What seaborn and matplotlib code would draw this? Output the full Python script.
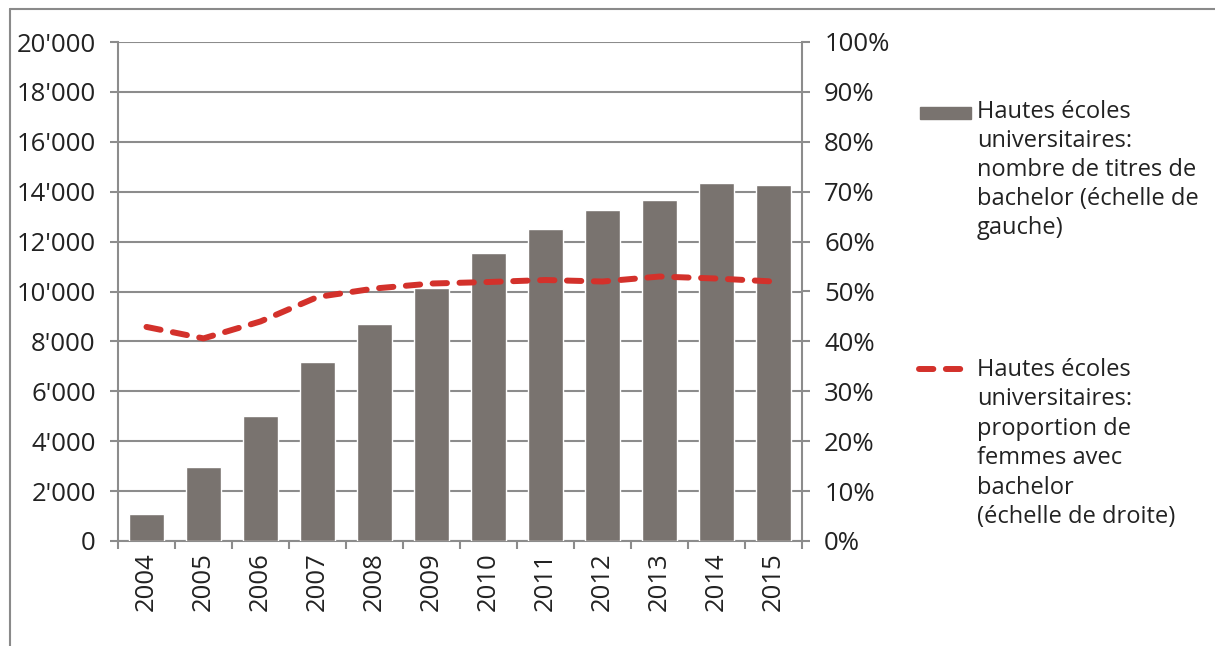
import numpy as np
import pandas as pd
import seaborn as sns
import matplotlib.pyplot as plt
from matplotlib.ticker import FuncFormatter, FixedLocator
from matplotlib.lines import Line2D
from matplotlib.patches import Rectangle

years = ['2004', '2005', '2006', '2007', '2008', '2009',
         '2010', '2011', '2012', '2013', '2014', '2015']
titres = [1080, 2960, 5000, 7160, 8680, 10160, 11560, 12520, 13280, 13680, 14360, 14280]
femmes = [42.9, 40.6, 44.0, 48.9, 50.6, 51.6, 51.9, 52.3, 52.0, 53.0, 52.6, 52.0]

label_bar = "Hautes écoles\nuniversitaires:\nnombre de titres de\nbachelor (échelle de\ngauche)"
label_line = "Hautes écoles\nuniversitaires:\nproportion de\nfemmes avec\nbachelor\n(échelle de droite)"

bar_color = '#79736f'
line_color = '#d3312b'
grid_color = '#8c8c8c'
text_color = '#222222'

sns.set_theme(style='white')
plt.rcParams['font.family'] = ['Open Sans', 'DejaVu Sans']
fs_tick = 18.5
fs_leg = 17

df = pd.DataFrame({'annee': years, 'titres': titres, 'femmes': femmes})

fig = plt.figure(figsize=(12.15, 6.46), dpi=100)
W, H = 1215, 646
ax = fig.add_axes([118 / W, 1 - 541 / H, (802 - 118) / W, (541 - 42) / H])

sns.barplot(data=df, x='annee', y='titres', color=bar_color, width=0.61,
            saturation=1, ax=ax, zorder=3)
ax.set_xlim(-0.5, len(years) - 0.5)
ax.set_ylim(0, 20000)
ax.set_yticks(np.arange(0, 20001, 2000))
ax.yaxis.set_major_formatter(FuncFormatter(lambda v, p: f"{int(v):,}".replace(',', "'")))
ax.grid(axis='y', color=grid_color, linewidth=1.5, zorder=0)
ax.set_axisbelow(True)
ax.set_xlabel('')
ax.set_ylabel('')

# ticks between the categories on the x axis
ax.xaxis.set_minor_locator(FixedLocator(np.arange(-0.5, len(years), 1)))
ax.tick_params(axis='x', which='major', length=0, pad=8, labelsize=fs_tick, labelrotation=90)
ax.tick_params(axis='x', which='minor', length=6, width=1.5, color=grid_color, direction='out', bottom=True)
ax.tick_params(axis='y', length=6, width=1.5, color=grid_color, direction='out', left=True,
               labelsize=fs_tick, pad=10)
for lab in ax.get_xticklabels() + ax.get_yticklabels():
    lab.set_color(text_color)

for side in ['top', 'right']:
    ax.spines[side].set_visible(False)
for side in ['left', 'bottom']:
    ax.spines[side].set_color(grid_color)
    ax.spines[side].set_linewidth(1.5)

ax2 = ax.twinx()
sns.lineplot(x=np.arange(len(years)), y=femmes, ax=ax2, color=line_color,
             linewidth=4.3, zorder=4)
ln = ax2.lines[0]
ln.set_linestyle((0, (2.4, 2.1)))
ln.set_dash_capstyle('round')
ax2.set_ylim(0, 100)
ax2.set_yticks(np.arange(0, 101, 10))
ax2.yaxis.set_major_formatter(FuncFormatter(lambda v, p: f"{int(v)}%"))
ax2.tick_params(axis='y', length=6, width=1.5, color=grid_color, direction='out', right=True,
                labelsize=fs_tick, pad=10)
for lab in ax2.get_yticklabels():
    lab.set_color(text_color)
for side in ['top', 'left', 'bottom']:
    ax2.spines[side].set_visible(False)
ax2.spines['right'].set_color(grid_color)
ax2.spines['right'].set_linewidth(1.5)
ax2.set_xlim(-0.5, len(years) - 0.5)

# legend drawn by hand so the key sits next to the first line of text
fig.patches.append(Rectangle((920 / W, 1 - 119 / H), 51 / W, 12 / H,
                             transform=fig.transFigure, color=bar_color))
fig.text(977 / W, 1 - 100 / H, label_bar, fontsize=fs_leg, va='top', ha='left',
         color=text_color, linespacing=1.28)
fig.lines.append(Line2D([919 / W, 962 / W], [1 - 369 / H, 1 - 369 / H],
                        transform=fig.transFigure, color=line_color, linewidth=4.3,
                        linestyle=(0, (2.4, 2.1)), dash_capstyle='round'))
fig.text(977 / W, 1 - 358 / H, label_line, fontsize=fs_leg, va='top', ha='left',
         color=text_color, linespacing=1.3)

# frame of the picture (left and top edge)
fig.lines.append(Line2D([10 / W, 10 / W], [0, 1 - 9 / H], transform=fig.transFigure,
                        color='#8a8a8a', linewidth=1.5))
fig.lines.append(Line2D([10 / W, 1], [1 - 9 / H, 1 - 9 / H], transform=fig.transFigure,
                        color='#8a8a8a', linewidth=1.5))

plt.savefig('out.png', dpi=100)
plt.close()
